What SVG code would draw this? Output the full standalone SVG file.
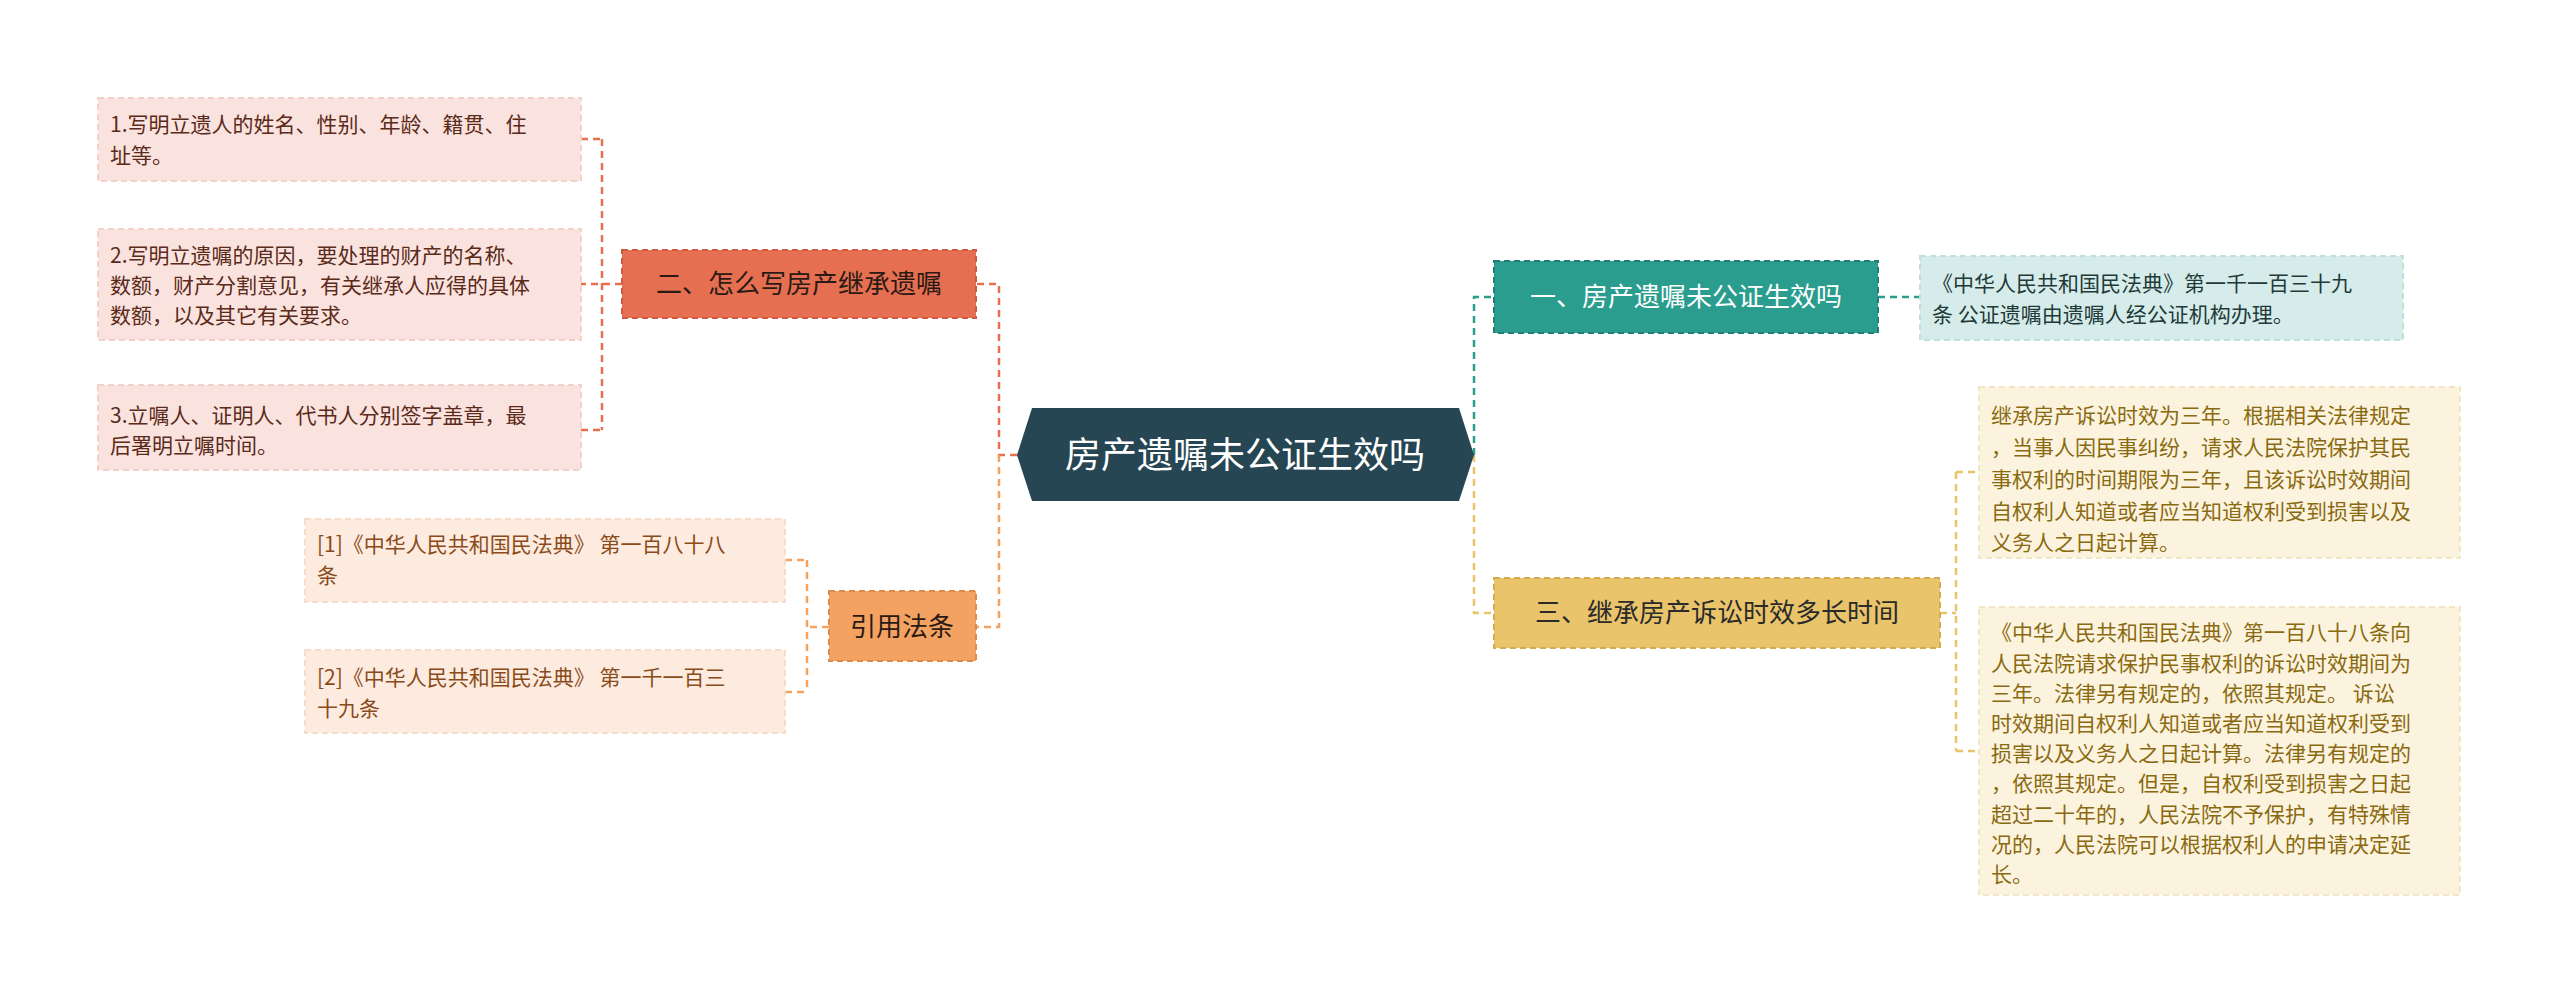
<svg xmlns="http://www.w3.org/2000/svg" width="2560" height="995" viewBox="0 0 2560 995">
<style>
text{font-family:"Noto Sans CJK SC","Liberation Sans",sans-serif;}
.c{fill:none;stroke-width:2.5;stroke-dasharray:7 5;}
.lf{font-size:21px;}
.br{font-size:26px;}
.bd{stroke-width:2;stroke-dasharray:6 4;}
</style>
<rect width="2560" height="995" fill="#fff"/>
<g id="connectors">
<path class="c" stroke="#e76f51" d="M1017 455 H999 V284 H976"/>
<path class="c" stroke="#f4a261" d="M999 455 V627 H976"/>
<path class="c" stroke="#2a9d8f" d="M1474 455 V297 H1494"/>
<path class="c" stroke="#e9c46a" d="M1474 455 V613 H1494"/>
<path class="c" stroke="#2a9d8f" d="M1878 297 H1920"/>
<path class="c" stroke="#e76f51" d="M622 284 H581 M602 139 V430 M581 139 H602 M581 430 H602"/>
<path class="c" stroke="#f4a261" d="M829 627 H807 M807 560 V692 M785 560 H807 M785 692 H807"/>
<path class="c" stroke="#e9c46a" d="M1940 613 H1956 M1956 472 V751 M1956 472 H1979 M1956 751 H1979"/>
</g>
<g id="center">
<polygon points="1017,455 1032,408 1459,408 1474,455 1459,501 1032,501" fill="#264653"/>
<text x="1245" y="468" font-size="36" fill="#fff" text-anchor="middle">房产遗嘱未公证生效吗</text>
</g>
<g id="b1">
<rect x="1494" y="261" width="384" height="72" fill="#2a9d8f" class="bd" stroke="#218075"/>
<text x="1686" y="306" class="br" fill="#fff" text-anchor="middle">一、房产遗嘱未公证生效吗</text>
</g>
<g id="l1">
<rect x="1920" y="256" width="483" height="84" fill="#d5ecea" class="bd" stroke="#c0dfdb"/>
<text class="lf" fill="#1f3a38"><tspan x="1932" y="291">《中华人民共和国民法典》第一千一百三十九</tspan><tspan x="1932" y="322">条 公证遗嘱由遗嘱人经公证机构办理。</tspan></text>
</g>
<g id="b3">
<rect x="1494" y="578" width="446" height="70" fill="#e9c46a" class="bd" stroke="#d3ac50"/>
<text x="1717" y="622" class="br" fill="#2a2a2a" text-anchor="middle">三、继承房产诉讼时效多长时间</text>
</g>
<g id="l3a">
<rect x="1979" y="387" width="481" height="171" fill="#fcf3df" class="bd" stroke="#f3e6c4"/>
<text class="lf" fill="#8a6a10"><tspan x="1991" y="423">继承房产诉讼时效为三年。根据相关法律规定</tspan><tspan x="1991" y="455">，当事人因民事纠纷，请求人民法院保护其民</tspan><tspan x="1991" y="487">事权利的时间期限为三年，且该诉讼时效期间</tspan><tspan x="1991" y="519">自权利人知道或者应当知道权利受到损害以及</tspan><tspan x="1991" y="550">义务人之日起计算。</tspan></text>
</g>
<g id="l3b">
<rect x="1979" y="607" width="481" height="288" fill="#fcf3df" class="bd" stroke="#f3e6c4"/>
<text class="lf" fill="#8a6a10"><tspan x="1991" y="640">《中华人民共和国民法典》第一百八十八条向</tspan><tspan x="1991" y="671">人民法院请求保护民事权利的诉讼时效期间为</tspan><tspan x="1991" y="701">三年。法律另有规定的，依照其规定。 诉讼</tspan><tspan x="1991" y="731">时效期间自权利人知道或者应当知道权利受到</tspan><tspan x="1991" y="761">损害以及义务人之日起计算。法律另有规定的</tspan><tspan x="1991" y="791">，依照其规定。但是，自权利受到损害之日起</tspan><tspan x="1991" y="822">超过二十年的，人民法院不予保护，有特殊情</tspan><tspan x="1991" y="852">况的，人民法院可以根据权利人的申请决定延</tspan><tspan x="1991" y="882">长。</tspan></text>
</g>
<g id="b2">
<rect x="622" y="250" width="354" height="68" fill="#e76f51" class="bd" stroke="#cf5a3e"/>
<text x="799" y="293" class="br" fill="#2a1a14" text-anchor="middle">二、怎么写房产继承遗嘱</text>
</g>
<g id="l2a">
<rect x="98" y="98" width="483" height="83" fill="#fae3de" class="bd" stroke="#f2d1ca"/>
<text class="lf" fill="#5a2a1a"><tspan x="110" y="132">1.写明立遗人的姓名、性别、年龄、籍贯、住</tspan><tspan x="110" y="163">址等。</tspan></text>
</g>
<g id="l2b">
<rect x="98" y="229" width="483" height="111" fill="#fae3de" class="bd" stroke="#f2d1ca"/>
<text class="lf" fill="#5a2a1a"><tspan x="110" y="263">2.写明立遗嘱的原因，要处理的财产的名称、</tspan><tspan x="110" y="293">数额，财产分割意见，有关继承人应得的具体</tspan><tspan x="110" y="323">数额，以及其它有关要求。</tspan></text>
</g>
<g id="l2c">
<rect x="98" y="385" width="483" height="85" fill="#fae3de" class="bd" stroke="#f2d1ca"/>
<text class="lf" fill="#5a2a1a"><tspan x="110" y="423">3.立嘱人、证明人、代书人分别签字盖章，最</tspan><tspan x="110" y="453">后署明立嘱时间。</tspan></text>
</g>
<g id="b4">
<rect x="829" y="591" width="147" height="70" fill="#f4a261" class="bd" stroke="#dd8a4a"/>
<text x="902" y="636" class="br" fill="#2a1a14" text-anchor="middle">引用法条</text>
</g>
<g id="l4a">
<rect x="305" y="519" width="480" height="83" fill="#fdebdf" class="bd" stroke="#f6dcc9"/>
<text class="lf" fill="#8a4a1a"><tspan x="317" y="552">[1]《中华人民共和国民法典》 第一百八十八</tspan><tspan x="317" y="583">条</tspan></text>
</g>
<g id="l4b">
<rect x="305" y="650" width="480" height="83" fill="#fdebdf" class="bd" stroke="#f6dcc9"/>
<text class="lf" fill="#8a4a1a"><tspan x="317" y="685">[2]《中华人民共和国民法典》 第一千一百三</tspan><tspan x="317" y="716">十九条</tspan></text>
</g>
</svg>
